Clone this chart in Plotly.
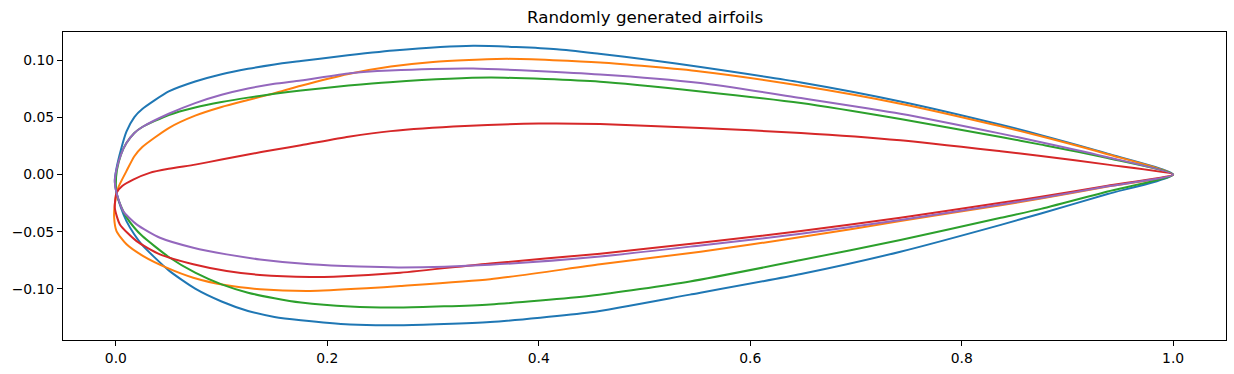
import plotly.graph_objects as go

# Airfoil outlines: trailing edge -> upper surface -> leading edge -> lower surface -> trailing edge
airfoil1_x = [1.0, 0.938, 0.875, 0.837, 0.742, 0.648, 0.553, 0.505, 0.457, 0.417, 0.338, 0.2625, 0.21, 0.175, 0.15, 0.125, 0.1, 0.075, 0.05, 0.025, 0.0175, 0.01, 0.0048, 0.0005, -0.001, 0.0006,
              0.0048, 0.01, 0.0175, 0.025, 0.05, 0.075, 0.1, 0.125, 0.15, 0.175, 0.2215, 0.269, 0.354, 0.449, 0.543, 0.648, 0.742, 0.837, 0.875, 0.938, 1.0]
airfoil1_y = [0.0, 0.0183, 0.0345, 0.0436, 0.064, 0.0806, 0.094, 0.1003, 0.1057, 0.1097, 0.1126, 0.1085, 0.1033, 0.0993, 0.0963, 0.0925, 0.0878, 0.0814, 0.0727, 0.0573, 0.0503, 0.0375, 0.0218, 0.005, -0.005, -0.016,
              -0.029, -0.0407, -0.0524, -0.0617, -0.0838, -0.0998, -0.111, -0.1193, -0.1245, -0.1274, -0.1312, -0.1318, -0.129, -0.1205, -0.105, -0.087, -0.0675, -0.044, -0.034, -0.017, 0.0]

airfoil2_x = [1.0, 0.938, 0.875, 0.837, 0.742, 0.648, 0.553, 0.458, 0.37, 0.30, 0.26, 0.22, 0.175, 0.15, 0.125, 0.1, 0.075, 0.05, 0.025, 0.0175, 0.01, 0.0022, -0.001, -0.0016, 0.0006,
              0.0101, 0.0259, 0.048, 0.0732, 0.1048, 0.1363, 0.1837, 0.237, 0.269, 0.354, 0.458, 0.553, 0.648, 0.742, 0.837, 0.875, 0.938, 1.0]
airfoil2_y = [0.0, 0.0178, 0.0335, 0.0422, 0.062, 0.0777, 0.0902, 0.098, 0.1012, 0.0985, 0.0945, 0.088, 0.0777, 0.0712, 0.0652, 0.0591, 0.0515, 0.0407, 0.0241, 0.016, 0.003, -0.0116, -0.026, -0.0378, -0.0494,
              -0.061, -0.0713, -0.0814, -0.0902, -0.0969, -0.1003, -0.1018, -0.0995, -0.0975, -0.0916, -0.0785, -0.0675, -0.0547, -0.0407, -0.0268, -0.021, -0.0105, 0.0]

airfoil3_x = [1.0, 0.938, 0.875, 0.837, 0.742, 0.648, 0.553, 0.458, 0.354, 0.259, 0.22, 0.175, 0.15, 0.125, 0.1, 0.075, 0.05, 0.025, 0.0175, 0.01, 0.0048, 0.001, 0.0, 0.0006,
              0.0048, 0.01, 0.0175, 0.025, 0.05, 0.075, 0.1, 0.125, 0.15, 0.175, 0.2215, 0.269, 0.354, 0.449, 0.543, 0.648, 0.742, 0.837, 0.875, 0.938, 1.0]
airfoil3_y = [0.0, 0.0145, 0.0262, 0.0329, 0.0486, 0.0626, 0.0727, 0.0812, 0.0848, 0.0808, 0.0778, 0.0735, 0.0706, 0.0673, 0.0635, 0.0587, 0.0521, 0.0416, 0.0364, 0.0276, 0.0175, 0.004, -0.008, -0.016,
              -0.0276, -0.0372, -0.0465, -0.0538, -0.0721, -0.0858, -0.096, -0.1033, -0.1082, -0.112, -0.1155, -0.1163, -0.1136, -0.106, -0.0935, -0.0748, -0.0572, -0.0378, -0.030, -0.0148, 0.0]

airfoil4_x = [1.0, 0.938, 0.875, 0.837, 0.742, 0.648, 0.553, 0.458, 0.40, 0.33, 0.26, 0.22, 0.175, 0.15, 0.125, 0.1, 0.075, 0.05, 0.032, 0.0164, 0.006, 0.0006,
              -0.001, 0.0038, 0.0196, 0.0417, 0.0732, 0.1048, 0.1363, 0.1837, 0.206, 0.269, 0.354, 0.458, 0.553, 0.648, 0.742, 0.837, 0.875, 0.938, 1.0]
airfoil4_y = [0.0, 0.0087, 0.0163, 0.0204, 0.030, 0.0364, 0.0407, 0.0442, 0.0446, 0.0425, 0.038, 0.033, 0.0256, 0.0218, 0.0175, 0.0131, 0.0087, 0.005, 0.0015, -0.0044, -0.010, -0.016,
              -0.029, -0.0436, -0.0582, -0.0698, -0.0785, -0.0844, -0.0878, -0.0896, -0.0893, -0.0858, -0.0778, -0.0692, -0.0596, -0.0494, -0.0378, -0.0247, -0.0195, -0.0098, 0.0]

airfoil5_x = [1.0, 0.938, 0.875, 0.837, 0.742, 0.648, 0.553, 0.458, 0.338, 0.259, 0.2215, 0.175, 0.15, 0.125, 0.1, 0.075, 0.05, 0.025, 0.0175, 0.01, 0.0048, 0.0005, -0.001, 0.0006,
              0.0069, 0.0196, 0.0417, 0.0732, 0.1048, 0.1363, 0.1837, 0.23, 0.27, 0.354, 0.458, 0.553, 0.648, 0.742, 0.837, 0.875, 0.938, 1.0]
airfoil5_y = [0.0, 0.0152, 0.0283, 0.0358, 0.0532, 0.0669, 0.080, 0.0875, 0.0928, 0.091, 0.0887, 0.0823, 0.0794, 0.0753, 0.0698, 0.0625, 0.0532, 0.0416, 0.0364, 0.0276, 0.0175, 0.004, -0.006, -0.016,
              -0.032, -0.0436, -0.0553, -0.064, -0.0698, -0.0742, -0.0785, -0.0805, -0.0812, -0.0788, -0.0716, -0.062, -0.0518, -0.0398, -0.0262, -0.0205, -0.0103, 0.0]

series = [
    (airfoil1_x, airfoil1_y, "#1f77b4"),
    (airfoil2_x, airfoil2_y, "#ff7f0e"),
    (airfoil3_x, airfoil3_y, "#2ca02c"),
    (airfoil4_x, airfoil4_y, "#d62728"),
    (airfoil5_x, airfoil5_y, "#9467bd"),
]

x_ticks = [0.0, 0.2, 0.4, 0.6, 0.8, 1.0]
y_ticks = [-0.10, -0.05, 0.0, 0.05, 0.10]
title_text = "Randomly generated airfoils"

fig = go.Figure()
for xs, ys, col in series:
    fig.add_trace(go.Scatter(x=xs, y=ys, mode="lines",
                             line=dict(color=col, width=2, shape="spline", smoothing=0.6),
                             showlegend=False, hoverinfo="skip"))

axis_common = dict(showgrid=False, zeroline=False, showline=True, linecolor="black",
                   linewidth=1, mirror=True, ticks="outside", ticklen=5, tickwidth=1,
                   tickcolor="black", tickfont=dict(family="DejaVu Sans", size=13.9, color="black"))

fig.update_layout(
    width=1234, height=374,
    margin=dict(l=63, r=8, t=32, b=34),
    paper_bgcolor="white", plot_bgcolor="white",
    font=dict(family="DejaVu Sans", color="black"),
    hovermode=False,
    xaxis=dict(range=[-0.05, 1.05], tickvals=x_ticks,
               ticktext=[f"{v:.1f}" for v in x_ticks], **axis_common),
    yaxis=dict(range=[-0.1447, 0.1247], tickvals=y_ticks,
               ticktext=[(f"{v:.2f}").replace("-", "\u2212") for v in y_ticks], **axis_common),
    annotations=[dict(text=title_text, x=0.5, y=1, xref="paper", yref="paper",
                      xanchor="center", yanchor="bottom", yshift=3, showarrow=False,
                      font=dict(family="DejaVu Sans", size=16.7, color="black"))],
)

fig.write_html("out.html", config={"displayModeBar": False},
               post_script="document.body.style.margin='0';document.body.style.overflow='hidden';")
